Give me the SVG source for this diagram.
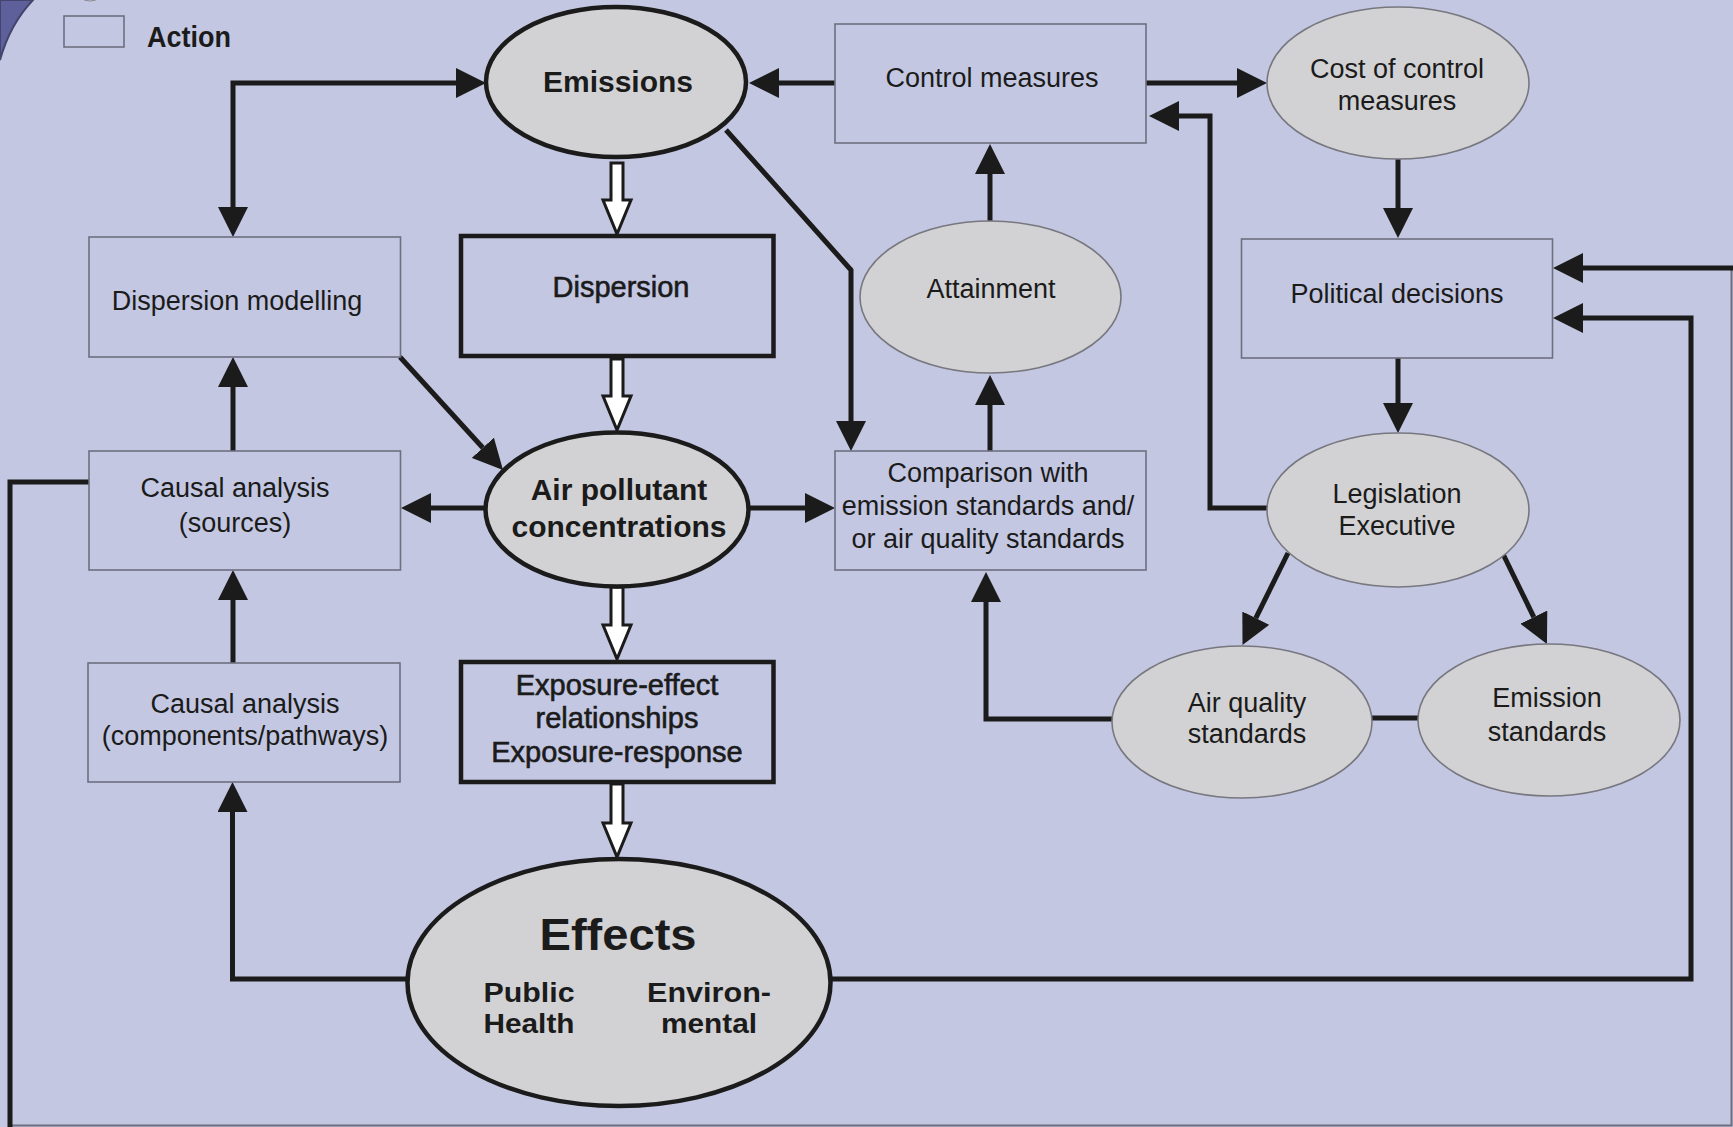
<svg xmlns="http://www.w3.org/2000/svg" width="1733" height="1127" viewBox="0 0 1733 1127">
<style>
  .bg { fill: #c3c7e1; }
  .box { fill: none; stroke: #6e6f80; stroke-width: 1.6; }
  .tbox { fill: none; stroke: #1b1b1b; stroke-width: 4.5; }
  .ell { fill: #d2d2d4; stroke: #77777f; stroke-width: 1.6; }
  .tell { fill: #d2d2d4; stroke: #1b1b1b; stroke-width: 4.5; }
  .t { font-family: "Liberation Sans", Arial, sans-serif; font-size: 27px; fill: #1b1b1b; text-anchor: middle; }
  .tm { font-family: "Liberation Sans", Arial, sans-serif; font-size: 29px; fill: #1b1b1b; text-anchor: middle; stroke: #1b1b1b; stroke-width: 0.6; }
  .b { font-family: "Liberation Sans", Arial, sans-serif; font-weight: bold; font-size: 30px; fill: #1b1b1b; text-anchor: middle; }
  .sb { font-family: "Liberation Sans", Arial, sans-serif; font-weight: bold; font-size: 27px; fill: #1b1b1b; text-anchor: middle; }
  .con { fill: none; stroke: #1b1b1b; stroke-width: 5; stroke-linejoin: miter; }
  .arr { marker-end: url(#ah); }
  .hol { fill: #ffffff; stroke: #1b1b1b; stroke-width: 3; stroke-linejoin: miter; }
  .frame { fill: none; stroke: #6e6f80; stroke-width: 2; }
</style>
<defs>
  <marker id="ah" viewBox="0 0 30 30" markerWidth="30" markerHeight="30" refX="0" refY="15" markerUnits="userSpaceOnUse" orient="auto-start-reverse">
    <path d="M0,0 L30,15 L0,30 Z" fill="#1b1b1b"/>
  </marker>
</defs>
<rect class="bg" x="0" y="0" width="1733" height="1127"/>
<path d="M0,0 L33,0 Q10,24 0,60 Z" fill="#5e609c" stroke="#44446c" stroke-width="2"/>
<ellipse cx="90" cy="-9" rx="13" ry="10" fill="#d2d2d4" stroke="#8a8a95" stroke-width="1"/>

<g id="legend">
  <rect class="box" x="64" y="16" width="60" height="31"/>
  <text x="147" y="47" font-family="Liberation Sans, Arial, sans-serif" font-weight="bold" font-size="29" fill="#1b1b1b" textLength="84" lengthAdjust="spacingAndGlyphs">Action</text>
</g>

<g id="connectors">
  <path class="frame" d="M10,1125.5 H1731.5 V268"/>
  <path class="con" d="M233,207 V83 H456" marker-start="url(#ah)" marker-end="url(#ah)"/>
  <path class="con arr" d="M835,83 H779"/>
  <path class="con arr" d="M1146,83 H1237"/>
  <path class="con arr" d="M1398,159 V208"/>
  <path class="con arr" d="M1398,358 V403"/>
  <path class="con arr" d="M1267,508 H1210 V116 H1179"/>
  <path class="con arr" d="M1288,553 L1255.8,618.1"/>
  <path class="con arr" d="M1503.5,555 L1533.8,617.1"/>
  <path class="con" d="M1372,718 H1418"/>
  <path class="con arr" d="M1112,719 H986 V602"/>
  <path class="con arr" d="M726,130 L851,270 V421"/>
  <path class="con arr" d="M990,451 V405"/>
  <path class="con arr" d="M990,221 V174"/>
  <path class="con arr" d="M486,508 H431"/>
  <path class="con arr" d="M748,508 H805"/>
  <path class="con arr" d="M233,451 V387"/>
  <path class="con arr" d="M233,663 V600"/>
  <path class="con arr" d="M408,979 H232.5 V812"/>
  <path class="con arr" d="M830,979 H1691 V318 H1583"/>
  <path class="con arr" d="M1735,268 H1583"/>
  <path class="con" d="M89,482 H10 V1130"/>
  <path class="con arr" d="M400,357 L482.8,447.8"/>
  <polygon class="hol" points="611,163 623,163 623,200 631,200 617,234 603,200 611,200"/>
  <polygon class="hol" points="611,359 623,359 623,396 631,396 617,430 603,396 611,396"/>
  <polygon class="hol" points="611,587 623,587 623,625 631,625 617,659 603,625 611,625"/>
  <polygon class="hol" points="611,784 623,784 623,823 631,823 617,857 603,823 611,823"/>
</g>

<g id="emissions">
  <ellipse class="tell" cx="616" cy="82" rx="130" ry="75"/>
  <text class="b" x="618" y="92">Emissions</text>
</g>
<g id="control-measures">
  <rect class="box" x="835" y="24" width="311" height="119"/>
  <text class="t" x="992" y="87">Control measures</text>
</g>
<g id="cost-of-control">
  <ellipse class="ell" cx="1398" cy="83" rx="131" ry="76"/>
  <text class="t" x="1397" y="78">Cost of control</text>
  <text class="t" x="1397" y="110">measures</text>
</g>
<g id="political-decisions">
  <rect class="box" x="1241.5" y="239" width="311" height="119"/>
  <text class="t" x="1397" y="303">Political decisions</text>
</g>
<g id="legislation">
  <ellipse class="ell" cx="1398" cy="510" rx="131" ry="77"/>
  <text class="t" x="1397" y="503">Legislation</text>
  <text class="t" x="1397" y="535">Executive</text>
</g>
<g id="air-quality-standards">
  <ellipse class="ell" cx="1242" cy="722" rx="130" ry="76"/>
  <text class="t" x="1247" y="712">Air quality</text>
  <text class="t" x="1247" y="743">standards</text>
</g>
<g id="emission-standards">
  <ellipse class="ell" cx="1549" cy="720" rx="131" ry="76"/>
  <text class="t" x="1547" y="707">Emission</text>
  <text class="t" x="1547" y="741">standards</text>
</g>
<g id="attainment">
  <ellipse class="ell" cx="990.5" cy="297" rx="130.5" ry="76"/>
  <text class="t" x="991" y="298">Attainment</text>
</g>
<g id="comparison">
  <rect class="box" x="835" y="451" width="311" height="119"/>
  <text class="t" x="988" y="482">Comparison with</text>
  <text class="t" x="988" y="515">emission standards and/</text>
  <text class="t" x="988" y="548">or air quality standards</text>
</g>
<g id="dispersion-modelling">
  <rect class="box" x="89" y="237" width="311.5" height="120"/>
  <text class="t" x="237" y="310">Dispersion modelling</text>
</g>
<g id="dispersion">
  <rect class="tbox" x="461" y="236" width="312.5" height="120"/>
  <text class="tm" x="621" y="297">Dispersion</text>
</g>
<g id="air-pollutant-concentrations">
  <ellipse class="tell" cx="617" cy="509.5" rx="131.5" ry="77"/>
  <text class="b" x="619" y="500">Air pollutant</text>
  <text class="b" x="619" y="537">concentrations</text>
</g>
<g id="causal-sources">
  <rect class="box" x="89" y="451" width="311.5" height="119"/>
  <text class="t" x="235" y="497">Causal analysis</text>
  <text class="t" x="235" y="532">(sources)</text>
</g>
<g id="causal-components">
  <rect class="box" x="88" y="663" width="312" height="119"/>
  <text class="t" x="245" y="713">Causal analysis</text>
  <text class="t" x="245" y="745">(components/pathways)</text>
</g>
<g id="exposure">
  <rect class="tbox" x="461" y="662" width="312.5" height="120"/>
  <text class="tm" x="617" y="695">Exposure-effect</text>
  <text class="tm" x="617" y="728">relationships</text>
  <text class="tm" x="617" y="762">Exposure-response</text>
</g>
<g id="effects">
  <ellipse class="tell" cx="619" cy="982.5" rx="211.5" ry="123.5"/>
  <text x="618" y="950" font-family="Liberation Sans, Arial, sans-serif" font-weight="bold" font-size="44" fill="#1b1b1b" text-anchor="middle" textLength="157" lengthAdjust="spacingAndGlyphs">Effects</text>
  <text class="sb" x="529" y="1002" textLength="91" lengthAdjust="spacingAndGlyphs">Public</text>
  <text class="sb" x="529" y="1033" textLength="91" lengthAdjust="spacingAndGlyphs">Health</text>
  <text class="sb" x="709" y="1002" textLength="124" lengthAdjust="spacingAndGlyphs">Environ-</text>
  <text class="sb" x="709" y="1033" textLength="96" lengthAdjust="spacingAndGlyphs">mental</text>
</g>
</svg>
